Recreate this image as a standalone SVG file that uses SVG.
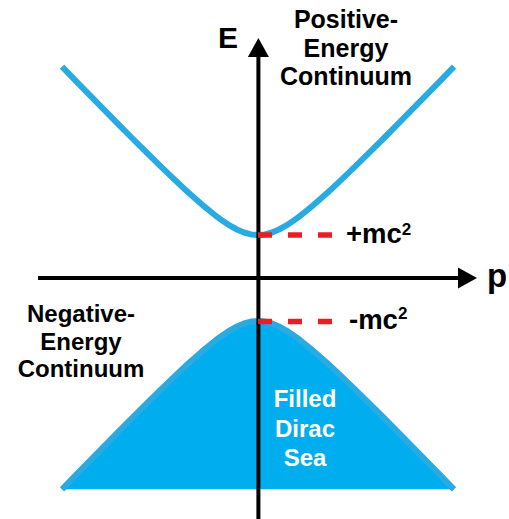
<svg xmlns="http://www.w3.org/2000/svg" width="509" height="519" viewBox="0 0 509 519">
<style>
.lbl{font-family:"Liberation Sans",Arial,Helvetica,sans-serif;font-weight:bold;fill:#000;}
.mid{text-anchor:middle;}
.axis{stroke:#000;stroke-width:4;fill:none;}
.curve{stroke:#29abe2;stroke-width:6;fill:none;stroke-linejoin:round;}
.sea{fill:#00aeef;stroke:none;}
.dash{stroke:#ed1c24;stroke-width:5.5;stroke-dasharray:14 16;fill:none;}
.white{fill:#fff;}
</style>
<defs>
<marker id="arrow" markerUnits="userSpaceOnUse" markerWidth="20" markerHeight="22" refX="1" refY="10.5" orient="auto" viewBox="0 0 20 21">
<path d="M0,0 L19,10.5 L0,21 Z" fill="#000"/>
</marker>
</defs>

<g id="dirac-sea">
<path class="sea" d="M62,489.3 L76,474.9 L90,460.6 L104,446.3 L118,432.1 L132,418.0 L146,404.1 L160,390.3 L174,376.9 L188,363.8 L202,351.4 L216,340.0 L223,334.9 L230,330.3 L237,326.5 L244,323.5 L251,321.6 L258,321.0 L265,321.6 L272,323.5 L279,326.5 L286,330.3 L293,334.9 L300,340.0 L314,351.4 L328,363.8 L342,376.9 L356,390.3 L370,404.1 L384,418.0 L398,432.1 L412,446.3 L426,460.6 L440,474.9 L454,489.3 Z"/>
<path class="curve" d="M62,489.3 L76,474.9 L90,460.6 L104,446.3 L118,432.1 L132,418.0 L146,404.1 L160,390.3 L174,376.9 L188,363.8 L202,351.4 L216,340.0 L223,334.9 L230,330.3 L237,326.5 L244,323.5 L251,321.6 L258,321.0 L265,321.6 L272,323.5 L279,326.5 L286,330.3 L293,334.9 L300,340.0 L314,351.4 L328,363.8 L342,376.9 L356,390.3 L370,404.1 L384,418.0 L398,432.1 L412,446.3 L426,460.6 L440,474.9 L454,489.3"/>
</g>

<g id="positive-branch">
<path class="curve" d="M62,66.7 L76,81.1 L90,95.4 L104,109.7 L118,123.9 L132,138.0 L146,151.9 L160,165.7 L174,179.1 L188,192.2 L202,204.6 L216,216.0 L223,221.1 L230,225.7 L237,229.5 L244,232.5 L251,234.4 L258,235.0 L265,234.4 L272,232.5 L279,229.5 L286,225.7 L293,221.1 L300,216.0 L314,204.6 L328,192.2 L342,179.1 L356,165.7 L370,151.9 L384,138.0 L398,123.9 L412,109.7 L426,95.4 L440,81.1 L454,66.7"/>
</g>

<g id="axes">
<line class="axis" x1="258.4" y1="519" x2="258.4" y2="56" marker-end="url(#arrow)"/>
<line class="axis" x1="38" y1="278" x2="459" y2="278" marker-end="url(#arrow)"/>
</g>

<g id="rest-energy-lines">
<line class="dash" x1="258" y1="235" x2="335" y2="235"/>
<line class="dash" x1="258" y1="321.5" x2="335" y2="321.5"/>
</g>

<g id="labels">
<text class="lbl mid" x="228" y="48" font-size="30">E</text>
<text class="lbl mid" x="497" y="287" font-size="33">p</text>
<text class="lbl mid" font-size="25"><tspan x="346" y="28">Positive-</tspan><tspan x="346" y="56.5">Energy</tspan><tspan x="346" y="85">Continuum</tspan></text>
<text class="lbl mid" font-size="24"><tspan x="81" y="322">Negative-</tspan><tspan x="81" y="349.5">Energy</tspan><tspan x="81" y="377">Continuum</tspan></text>
<text class="lbl" x="346" y="243" font-size="27.5">+mc<tspan font-size="17" dy="-8.5">2</tspan></text>
<text class="lbl" x="349" y="328.5" font-size="27.5">-mc<tspan font-size="17" dy="-9.5">2</tspan></text>
<text class="lbl mid white" font-size="24"><tspan x="305" y="407">Filled</tspan><tspan x="305" y="436.5">Dirac</tspan><tspan x="305" y="466">Sea</tspan></text>
</g>
</svg>
